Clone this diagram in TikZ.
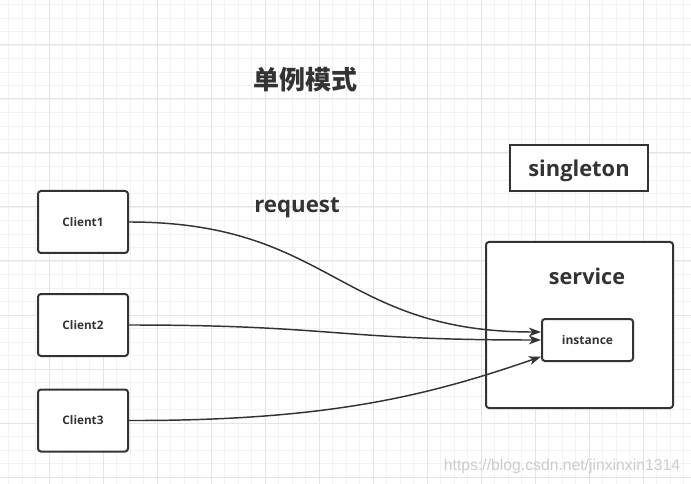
\documentclass[tikz,border=0pt]{standalone}
\usepackage{fontspec}
\setmainfont{Open Sans}
\newfontfamily\cjk{Noto Sans CJK SC}
\newfontfamily\wmfont{Liberation Sans}
\usetikzlibrary{arrows.meta}
\definecolor{ink}{HTML}{333333}
\definecolor{gridminor}{HTML}{F2F2F2}
\definecolor{gridmajor}{HTML}{E4E4E4}
\tikzset{
  box/.style={draw=ink, line width=1.5pt, fill=white, inner sep=0pt},
  rbox/.style={box, rounded corners=2.2pt},
  lbl/.style={text=ink, font=\bfseries, inner sep=0pt},
  link/.style={draw=ink, line width=1.1pt, -{Stealth[length=9pt,width=6.5pt,inset=2.5pt]}},
}
\begin{document}
\begin{tikzpicture}[x=0.75pt,y=-0.75pt]
\useasboundingbox (0,0) rectangle (691,484);
\fill[white] (0,0) rectangle (691,484);
% grid
\foreach \i in {0,...,51} {
  \draw[gridminor, line width=0.6pt] ({8.5+13.5*\i},0) -- ({8.5+13.5*\i},484);
}
\foreach \i in {0,...,36} {
  \draw[gridminor, line width=0.6pt] (0,{4.5+13.5*\i}) -- (691,{4.5+13.5*\i});
}
\foreach \i in {0,...,12} {
  \draw[gridmajor, line width=0.75pt] ({49+54*\i},0) -- ({49+54*\i},484);
}
\foreach \i in {0,...,8} {
  \draw[gridmajor, line width=0.75pt] (0,{45+54*\i}) -- (691,{45+54*\i});
}
% title and labels
\node[lbl, font=\cjk\bfseries\fontsize{19.5}{22}\selectfont] (title) at (305,80) {单例模式};
\node[lbl, font=\bfseries\fontsize{16.7}{19}\selectfont] (request) at (297,208) {request};
% singleton
\node[box, minimum width=103.5pt, minimum height=34.5pt] (singleton) at (579,168) {};
\node[lbl, font=\bfseries\fontsize{16.4}{19}\selectfont] (singletonlbl) at (579,171) {singleton};
% clients
\node[rbox, minimum width=67.5pt, minimum height=46.5pt, font=\bfseries\fontsize{8.8}{10}\selectfont, text=ink] (c1) at (83,222) {Client1};
\node[rbox, minimum width=67.5pt, minimum height=46.5pt, font=\bfseries\fontsize{8.8}{10}\selectfont, text=ink] (c2) at (83,325) {Client2};
\node[rbox, minimum width=67.5pt, minimum height=46.5pt, font=\bfseries\fontsize{8.8}{10}\selectfont, text=ink] (c3) at (83,420.5) {Client3};
% service
\node[rbox, minimum width=140.25pt, minimum height=124.5pt] (service) at (579.5,325) {};
\node[lbl, font=\bfseries\fontsize{16.2}{19}\selectfont] (servicelbl) at (587,276) {service};
\node[rbox, minimum width=68.25pt, minimum height=31.5pt, font=\bfseries\fontsize{9}{11}\selectfont, text=ink] (inst) at (587.5,340) {instance};
% connectors
\coordinate (e1) at ([yshift=6pt]inst.west);
\coordinate (e2) at (inst.west);
\coordinate (e3) at ([yshift=-12.5pt]inst.west);
\draw[link] (c1.east) .. controls (332,222) and (338,332) .. (e1);
\draw[link] (c2.east) .. controls (334,325) and (334,340) .. (e2);
\draw[link] (c3.east) .. controls (330,421) and (430,395) .. (e3);
% watermark
\node[text=gray!40, font=\wmfont\fontsize{11.8}{14}\selectfont, inner sep=0pt] (wm) at (562,466) {https://blog.csdn.net/jinxinxin1314};
\end{tikzpicture}
\end{document}
